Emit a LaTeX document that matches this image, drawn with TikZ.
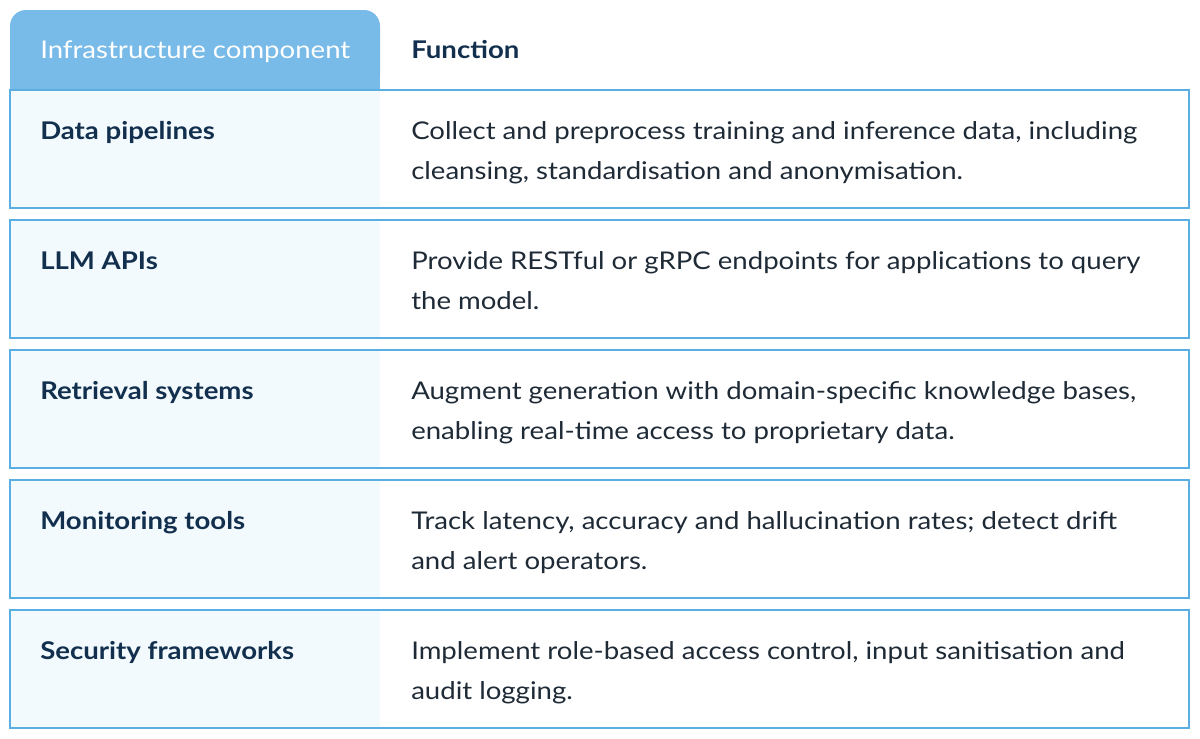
\documentclass[tikz,border=0pt]{standalone}
\usepackage{fontspec}
\setmainfont{Lato}[FakeStretch=1.13]
\definecolor{hdr}{HTML}{78BAE8}
\definecolor{bord}{HTML}{5AAEE2}
\definecolor{lite}{HTML}{F3FAFE}
\definecolor{ink}{HTML}{12304E}
\definecolor{txt}{HTML}{1E2A36}
\tikzset{
  lab/.style={anchor=base west, inner sep=0pt, font=\fontsize{18.3}{30}\selectfont\bfseries, text=ink},
  desc/.style={anchor=base west, inner sep=0pt, font=\fontsize{18.3}{30}\selectfont, text=txt},
  rowbox/.style={draw=bord, line width=0.9pt}
}
\begin{document}
\begin{tikzpicture}[x=0.75pt,y=-0.75pt]
\useasboundingbox (0,0) rectangle (1200,739);
\fill[hdr, rounded corners=12pt] (10,10) rectangle (380,90);
\fill[hdr] (10,60) rectangle (380,90);
\node[lab, font=\fontsize{18.3}{30}\selectfont, text=white] (h1) at (40,58) {Infrastructure component};
\node[lab] (h2) at (411,58) {Function};
\foreach \t/\a/\b/\c/\n in {
  90/{Data pipelines}/{Collect and preprocess training and inference data, including}/{cleansing, standardisation and anonymisation.}/r1,
  220/{LLM APIs}/{Provide RESTful or gRPC endpoints for applications to query}/{the model.}/r2,
  350/{Retrieval systems}/{Augment generation with domain-specific knowledge bases,}/{enabling real-time access to proprietary data.}/r3,
  480/{Monitoring tools}/{Track latency, accuracy and hallucination rates; detect drift}/{and alert operators.}/r4,
  610/{Security frameworks}/{Implement role-based access control, input sanitisation and}/{audit logging.}/r5}{
  \fill[lite] (10,\t) rectangle (380,\t+118);
  \draw[rowbox] (10,\t) rectangle (1189,\t+118);
  \node[lab] (\n a) at (40,\t+49) {\a};
  \node[desc] (\n b) at (411,\t+49) {\b};
  \node[desc] (\n c) at (411,\t+89) {\c};
}
\end{tikzpicture}
\end{document}
